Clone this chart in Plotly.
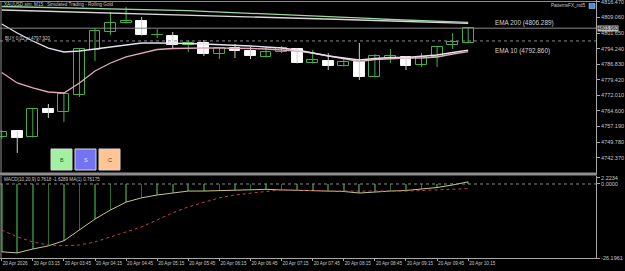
import plotly.graph_objects as go

# ---------------- data ----------------
idx = list(range(31))
opens  = [4752.18,4755.04,4752.18,4765.52,4764.09,4772.18,4793.61,4802.18,4806.47,4807.42,4800.60,4800.28,4795.99,4796.95,4791.71,4794.56,4793.14,4790.28,4792.66,4794.09,4787.42,4788.37,4785.99,4787.90,4780.76,4789.80,4790.28,4786.47,4790.28,4795.99,4796.95]
highs  = [4755.52,4755.04,4765.99,4767.90,4773.61,4794.56,4804.09,4811.71,4814.09,4809.33,4803.61,4802.18,4798.37,4798.37,4795.04,4796.47,4795.04,4795.04,4795.52,4794.56,4793.61,4792.18,4790.28,4796.95,4791.71,4794.09,4790.76,4792.18,4795.52,4801.71,4804.20]
lows   = [4751.23,4744.56,4751.90,4761.23,4759.33,4771.23,4788.37,4800.76,4806.20,4800.50,4799.33,4794.56,4792.66,4790.76,4789.33,4789.80,4789.33,4790.00,4792.18,4787.20,4787.20,4784.09,4785.80,4779.33,4780.60,4787.42,4784.09,4785.52,4785.52,4794.09,4796.80]
closes = [4754.56,4751.71,4765.52,4763.61,4772.66,4794.09,4802.66,4806.47,4807.42,4800.76,4800.90,4795.99,4796.95,4791.71,4794.56,4793.14,4790.76,4792.66,4794.56,4787.42,4788.85,4785.99,4787.90,4780.76,4790.76,4790.76,4785.99,4790.28,4795.04,4797.42,4804.00]

ema200_white = [4812.66,4812.47,4812.23,4812.04,4811.80,4811.61,4811.37,4811.18,4810.94,4810.75,4810.52,4810.32,4810.13,4809.94,4809.75,4809.56,4809.37,4809.18,4808.99,4808.80,4808.61,4808.37,4808.13,4807.90,4807.66,4807.42,4807.23,4807.04,4806.85,4806.66,4806.289]
ema200_green = [4814.32,4814.18,4814.04,4813.90,4813.75,4813.61,4813.47,4813.33,4813.18,4813.04,4812.90,4812.61,4812.32,4812.04,4811.75,4811.47,4811.18,4810.90,4810.61,4810.32,4810.04,4809.66,4809.28,4808.90,4808.52,4808.13,4807.85,4807.61,4807.37,4807.09,4806.80]
ema10_white = [4805.99,4801.71,4797.90,4794.56,4792.66,4793.13,4794.09,4795.04,4796.23,4796.94,4796.94,4796.94,4796.71,4796.47,4796.23,4795.99,4795.52,4795.04,4794.56,4793.61,4792.18,4790.75,4789.80,4788.85,4789.56,4790.04,4790.04,4790.52,4791.23,4792.42,4793.60]
ema10_pink = [4782.90,4777.90,4775.52,4773.61,4773.13,4777.90,4783.61,4787.42,4790.28,4792.18,4793.85,4794.32,4794.56,4794.56,4794.56,4794.56,4794.32,4794.09,4793.61,4793.13,4792.18,4790.75,4789.32,4788.13,4789.09,4789.56,4789.80,4789.80,4790.28,4791.71,4792.86]

macd_main = [-24.0,-24.4,-23.0,-21.9,-20.1,-16.3,-12.4,-9.2,-6.4,-4.9,-3.9,-3.2,-2.5,-2.5,-2.3,-2.1,-1.9,-1.9,-2.1,-2.3,-2.5,-2.5,-2.65,-3.2,-2.8,-2.5,-2.3,-1.9,-1.25,-0.35,0.76]
macd_signal = [-16.3,-18.7,-20.5,-21.6,-21.9,-21.6,-20.5,-18.7,-17.0,-15.2,-12.7,-10.2,-8.1,-6.4,-4.9,-3.9,-3.2,-2.65,-2.1,-2.1,-2.3,-2.5,-2.5,-2.65,-2.65,-2.65,-2.5,-2.3,-2.1,-1.9,-1.63]

x_tickvals = [0,2,4,6,8,10,12,14,16,18,20,22,24,26,28,30]
x_ticklabels = ["20 Apr 2026","20 Apr 03:15","20 Apr 03:45","20 Apr 04:15","20 Apr 04:45","20 Apr 05:15",
                "20 Apr 05:45","20 Apr 06:15","20 Apr 06:45","20 Apr 07:15","20 Apr 07:45","20 Apr 08:15",
                "20 Apr 08:45","20 Apr 09:15","20 Apr 09:45","20 Apr 10:15"]
price_ticks = [4816.470,4809.060,4801.650,4794.240,4786.830,4779.420,4772.010,4764.600,4757.190,4749.780,4742.370]
macd_ticks = [2.2234, 0.0, -26.1961]
macd_ticklabels = ["2.2234","0.0000","-26.1961"]

buy_price = 4797.92
bid_label = "4803.960"

# ---------------- layout helpers ----------------
W, H = 625, 271
PW, PH = 596, 259
def px(x): return x / PW
def py(y): return (PH - y) / PH

GREEN = "#45b045"
BEAR = "#f4f4f4"
FONT = "Liberation Sans, Arial, sans-serif"

fig = go.Figure()

bull = [i for i in idx if closes[i] >= opens[i]]
bear = [i for i in idx if closes[i] < opens[i]]

def wick_xy(sel):
    xs, ys = [], []
    for i in sel:
        xs += [i, i, None]
        ys += [lows[i], highs[i], None]
    return xs, ys

wx, wy = wick_xy(bull)
fig.add_trace(go.Scatter(x=wx, y=wy, mode="lines", line=dict(color=GREEN, width=1), xaxis="x", yaxis="y", hoverinfo="skip"))
wx, wy = wick_xy(bear)
fig.add_trace(go.Scatter(x=wx, y=wy, mode="lines", line=dict(color="#cfcfcf", width=1), xaxis="x", yaxis="y", hoverinfo="skip"))

fig.add_trace(go.Bar(x=bull, base=[min(opens[i], closes[i]) for i in bull],
                     y=[max(abs(closes[i]-opens[i]), 0.3) for i in bull],
                     width=0.7, marker=dict(color="black", line=dict(color=GREEN, width=1)),
                     xaxis="x", yaxis="y"))
fig.add_trace(go.Bar(x=bear, base=[min(opens[i], closes[i]) for i in bear],
                     y=[max(abs(closes[i]-opens[i]), 0.3) for i in bear],
                     width=0.7, marker=dict(color="white", line=dict(color=BEAR, width=1)),
                     xaxis="x", yaxis="y"))

fig.add_trace(go.Scatter(x=idx, y=ema200_green, mode="lines", line=dict(color="#9fd69f", width=1.3), xaxis="x", yaxis="y"))
fig.add_trace(go.Scatter(x=idx, y=ema200_white, mode="lines", line=dict(color="#d8d8d8", width=1.3), xaxis="x", yaxis="y"))
fig.add_trace(go.Scatter(x=idx, y=ema10_pink, mode="lines", line=dict(color="#e2a8b8", width=1.3), xaxis="x", yaxis="y"))
fig.add_trace(go.Scatter(x=idx, y=ema10_white, mode="lines", line=dict(color="#e4e0ec", width=1.3), xaxis="x", yaxis="y"))

# MACD panel
fig.add_trace(go.Bar(x=idx, y=macd_main, width=0.045, marker=dict(color="#2a6a2a", line=dict(width=0)), xaxis="x2", yaxis="y2"))
fig.add_trace(go.Scatter(x=idx, y=macd_main, mode="lines", line=dict(color="#c9c491", width=1), xaxis="x2", yaxis="y2"))
fig.add_trace(go.Scatter(x=idx, y=macd_signal, mode="lines", line=dict(color="#c04545", width=1, dash="dot"), xaxis="x2", yaxis="y2"))

xr = [-0.11, 38.22]
axis_font = dict(family=FONT, size=5.5, color="#c8c8c8")

fig.update_layout(
    width=W, height=H, autosize=False,
    margin=dict(l=0, r=W-PW, t=0, b=H-PH),
    paper_bgcolor="black", plot_bgcolor="black",
    showlegend=False, barmode="overlay", bargap=0,
    xaxis=dict(domain=[0, 1], range=xr, anchor="y", showticklabels=False, showgrid=False, zeroline=False,
               matches="x2", ticks=""),
    yaxis=dict(domain=[py(173), 1], range=[4817.42 - 173/2.1, 4817.42], side="right", showgrid=False, zeroline=False,
               showline=True, linecolor="#a8a8a8", linewidth=1, ticks="outside", ticklen=3, tickcolor="#a8a8a8",
               tickvals=price_ticks, ticktext=[f"{v:.3f}" for v in price_ticks], tickfont=axis_font,
               ticklabeloverflow="allow"),
    xaxis2=dict(domain=[0, 1], range=xr, anchor="y2", showgrid=False, zeroline=False,
                tickvals=x_tickvals, ticktext=x_ticklabels, ticks="outside", ticklen=2, tickcolor="#a8a8a8",
                tickangle=0, ticklabelposition="outside right", ticklabeloverflow="allow",
                tickfont=dict(family=FONT, size=4.6, color="#c8c8c8"),
                showline=True, linecolor="#a8a8a8", linewidth=1),
    yaxis2=dict(domain=[py(258), py(176)], range=[-26.1961, (184-176)/2.83], side="right", showgrid=False,
                zeroline=False, showline=True, linecolor="#a8a8a8", linewidth=1, ticks="outside", ticklen=3,
                tickcolor="#a8a8a8", tickvals=macd_ticks, ticktext=macd_ticklabels, tickfont=axis_font,
                ticklabeloverflow="allow"),
)

shapes = []
# frame of main panel
shapes.append(dict(type="line", xref="paper", yref="paper", x0=px(1), x1=px(1), y0=py(173), y1=py(1.5), line=dict(color="#8c8c8c", width=1)))
shapes.append(dict(type="line", xref="paper", yref="paper", x0=0, x1=1, y0=py(1.5), y1=py(1.5), line=dict(color="#8c8c8c", width=1)))
shapes.append(dict(type="line", xref="paper", yref="paper", x0=px(1), x1=px(1), y0=py(259), y1=py(176), line=dict(color="#8c8c8c", width=1)))
# separator between panels
shapes.append(dict(type="rect", xref="paper", yref="paper", x0=0, x1=px(597), y0=py(175.5), y1=py(172.5), fillcolor="#8e8e8e", line=dict(width=0)))
# bid line and buy line
shapes.append(dict(type="line", xref="paper", yref="y", x0=0, x1=1, y0=closes[-1], y1=closes[-1], line=dict(color="#8a8a8a", width=1)))
shapes.append(dict(type="line", xref="paper", yref="y", x0=0, x1=1, y0=buy_price, y1=buy_price, line=dict(color="#8a8a8a", width=1, dash="dot")))
# MACD zero line
shapes.append(dict(type="line", xref="paper", yref="y2", x0=0, x1=1, y0=0, y1=0, line=dict(color="#8a8a8a", width=1, dash="dot")))
# buttons
buttons = [("B", 51, "#a3f0a3", "#2a5a2a"), ("S", 75, "#7272f2", "#e8e8ff"), ("C", 99, "#ffc597", "#5a3a20")]
for lab, bx, col, tcol in buttons:
    shapes.append(dict(type="rect", xref="paper", yref="paper", x0=px(bx), x1=px(bx+21), y0=py(170), y1=py(149),
                       fillcolor=col, line=dict(color="#d8d8d8", width=1)))
# icon top right
shapes.append(dict(type="rect", xref="paper", yref="paper", x0=px(589), x1=px(595), y0=py(8.5), y1=py(3.5),
                   fillcolor="#4a8ad8", line=dict(color="#c8e0ff", width=0.5)))
fig.update_layout(shapes=shapes)

ann = []
def add_text(x, y, text, size, color="#c8c8c8", xanchor="left", bg=None):
    d = dict(xref="paper", yref="paper", x=px(x), y=py(y), text=text, showarrow=False, xanchor=xanchor,
             yanchor="middle", font=dict(family=FONT, size=size, color=color))
    if bg:
        d.update(bgcolor=bg, borderpad=0)
    ann.append(d)

add_text(2, 5, "XAUUSD.sim, M15:  Simulated Trading - Rolling Gold", 4.6)
add_text(3, 38.5, f"BUY 0.02 at {buy_price:.3f}", 4.6)
add_text(588, 6, "PatternsFX_ind5", 4.6, xanchor="right")
add_text(493, 23, f"EMA 200 ({ema200_white[-1]:.3f})", 6.4, color="#d4d4d4")
add_text(493, 51, f"EMA 10 ({ema10_pink[-1]:.3f})", 6.4, color="#d4d4d4")
add_text(2, 179, "MACD(10,20,9) 0.7618 -1.6289 MA(1) 0.76175", 4.6)
for lab, bx, col, tcol in buttons:
    add_text(bx + 10.5, 159.5, lab, 5.5, color=tcol, xanchor="center")
ann.append(dict(xref="paper", yref="y", x=px(597), y=closes[-1], text=bid_label, showarrow=False, xanchor="left",
                yanchor="middle", font=dict(family=FONT, size=4.8, color="black"), bgcolor="#bcbcbc", borderpad=0))
fig.update_layout(annotations=ann)

fig.write_html("out.html", config={"displayModeBar": False})
